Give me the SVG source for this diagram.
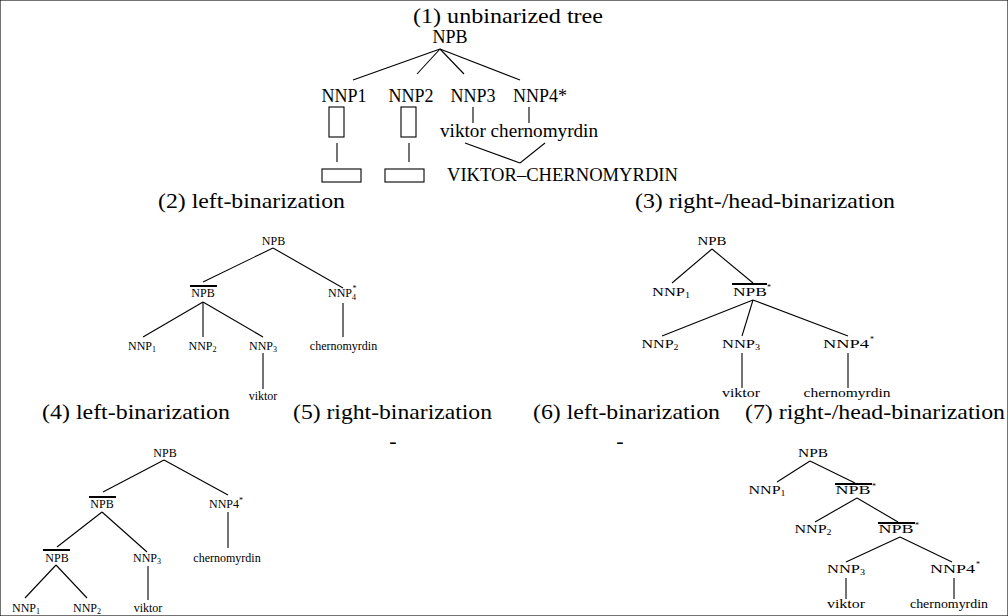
<svg xmlns="http://www.w3.org/2000/svg" width="1008" height="616" viewBox="0 0 1008 616" font-family="'Liberation Serif', 'Times New Roman', 'DejaVu Serif', serif">
<style>
text { font-family: 'Liberation Serif', 'Times New Roman', 'DejaVu Serif', serif; fill: #000; }
.title { font-size: 22px; }
.l1 { font-size: 18px; }
.s { font-size: 12px; }
.w { font-size: 13px; }
.sb { font-size: 8px; }
.m { text-anchor: middle; }
line, rect { stroke: #000; stroke-width: 1.1; fill: none; }
line.bar { stroke-width: 2; }
</style>
<rect x="0" y="0" width="1008" height="616" fill="#fff" stroke="none"/>

<g id="titles">
<text class="title" x="413" y="23" textLength="190" lengthAdjust="spacingAndGlyphs">(1) unbinarized tree</text>
<text class="title" x="158" y="208" textLength="187" lengthAdjust="spacingAndGlyphs">(2) left-binarization</text>
<text class="title" x="635" y="208" textLength="260" lengthAdjust="spacingAndGlyphs">(3) right-/head-binarization</text>
<text class="title" x="42" y="419" textLength="188" lengthAdjust="spacingAndGlyphs">(4) left-binarization</text>
<text class="title" x="293" y="419" textLength="199" lengthAdjust="spacingAndGlyphs">(5) right-binarization</text>
<text class="title" x="533" y="419" textLength="187" lengthAdjust="spacingAndGlyphs">(6) left-binarization</text>
<text class="title" x="745" y="419" textLength="260" lengthAdjust="spacingAndGlyphs">(7) right-/head-binarization</text>
<text class="title m" x="393" y="448">-</text>
<text class="title m" x="620" y="448">-</text>
</g>

<!-- Tree 1 -->
<g id="t1-npb"><text class="l1 m" x="450" y="43">NPB</text></g>
<g id="t1-nnp1"><text class="l1 m" x="344" y="102">NNP1</text><rect x="329" y="107" width="15" height="30"/></g>
<g id="t1-nnp2"><text class="l1 m" x="411" y="102">NNP2</text><rect x="401" y="107" width="15" height="30"/></g>
<g id="t1-nnp3"><text class="l1 m" x="473" y="102">NNP3</text></g>
<g id="t1-nnp4"><text class="l1 m" x="540" y="102">NNP4*</text></g>
<g id="t1-box1"><rect x="322" y="169" width="39" height="13"/></g>
<g id="t1-box2"><rect x="385" y="169" width="39" height="13"/></g>
<g id="t1-words"><text class="l1" x="440" y="137" textLength="158" lengthAdjust="spacingAndGlyphs">viktor chernomyrdin</text></g>
<g id="t1-merged"><text class="l1" x="447" y="181" textLength="231" lengthAdjust="spacingAndGlyphs">VIKTOR–CHERNOMYRDIN</text></g>

<!-- Tree 2 -->
<g id="t2-npb"><text class="s m" x="273.5" y="245">NPB</text></g>
<g id="t2-npbbar"><text class="s m" x="203" y="297">NPB</text><line class="bar" x1="190" y1="286" x2="217" y2="286"/></g>
<g id="t2-nnp4"><text class="s" x="328" y="297">NNP<tspan class="sb" dy="3">4</tspan><tspan class="sb" x="352.5" dy="-9">*</tspan></text></g>
<g id="t2-nnp1"><text class="s m" x="142" y="350">NNP<tspan class="sb" dy="2">1</tspan></text></g>
<g id="t2-nnp2"><text class="s m" x="202.5" y="350">NNP<tspan class="sb" dy="2">2</tspan></text></g>
<g id="t2-nnp3"><text class="s m" x="263" y="350">NNP<tspan class="sb" dy="2">3</tspan></text></g>
<g id="t2-cher"><text class="s m" x="343.5" y="350">chernomyrdin</text></g>
<g id="t2-vik"><text class="s m" x="263" y="400">viktor</text></g>

<!-- Tree 3 -->
<g id="t3-npb"><text class="w m" x="712" y="245" textLength="29" lengthAdjust="spacingAndGlyphs">NPB</text></g>
<g id="t3-nnp1"><text class="w m" x="671" y="296" textLength="38" lengthAdjust="spacingAndGlyphs">NNP<tspan class="sb" dy="2">1</tspan></text></g>
<g id="t3-npbbar"><text class="w m" x="750" y="296" textLength="34" lengthAdjust="spacingAndGlyphs">NPB</text><line class="bar" x1="732" y1="284" x2="767" y2="284"/><text class="sb" x="767" y="290">*</text></g>
<g id="t3-nnp2"><text class="w m" x="660" y="348" textLength="37" lengthAdjust="spacingAndGlyphs">NNP<tspan class="sb" dy="2">2</tspan></text></g>
<g id="t3-nnp3"><text class="w m" x="741" y="348" textLength="38" lengthAdjust="spacingAndGlyphs">NNP<tspan class="sb" dy="2">3</tspan></text></g>
<g id="t3-nnp4"><text class="w" x="823" y="348" textLength="46" lengthAdjust="spacingAndGlyphs">NNP4</text><text class="sb" x="870" y="342">*</text></g>
<g id="t3-vik"><text class="w m" x="741" y="397" textLength="38" lengthAdjust="spacingAndGlyphs">viktor</text></g>
<g id="t3-cher"><text class="w m" x="847" y="397" textLength="87" lengthAdjust="spacingAndGlyphs">chernomyrdin</text></g>

<!-- Tree 4 -->
<g id="t4-npb"><text class="s m" x="165" y="457">NPB</text></g>
<g id="t4-npbbar"><text class="s m" x="102" y="508">NPB</text><line class="bar" x1="89" y1="497" x2="116" y2="497"/></g>
<g id="t4-nnp4"><text class="s" x="209" y="508">NNP4<tspan class="sb" dy="-5">*</tspan></text></g>
<g id="t4-npbbar2"><text class="s m" x="57" y="562">NPB</text><line class="bar" x1="43" y1="550" x2="70" y2="550"/></g>
<g id="t4-nnp3"><text class="s m" x="147" y="562">NNP<tspan class="sb" dy="2">3</tspan></text></g>
<g id="t4-cher"><text class="s m" x="227" y="562">chernomyrdin</text></g>
<g id="t4-nnp1"><text class="s m" x="26" y="612">NNP<tspan class="sb" dy="2">1</tspan></text></g>
<g id="t4-nnp2"><text class="s m" x="87" y="612">NNP<tspan class="sb" dy="2">2</tspan></text></g>
<g id="t4-vik"><text class="s m" x="148" y="612">viktor</text></g>

<!-- Tree 7 -->
<g id="t7-npb"><text class="w m" x="813" y="457" textLength="30" lengthAdjust="spacingAndGlyphs">NPB</text></g>
<g id="t7-nnp1"><text class="w m" x="767" y="494" textLength="37" lengthAdjust="spacingAndGlyphs">NNP<tspan class="sb" dy="2">1</tspan></text></g>
<g id="t7-npbbar"><text class="w m" x="853" y="494" textLength="35" lengthAdjust="spacingAndGlyphs">NPB</text><line class="bar" x1="835" y1="484" x2="872" y2="484"/><text class="sb" x="872" y="489">*</text></g>
<g id="t7-nnp2"><text class="w m" x="813" y="533" textLength="37" lengthAdjust="spacingAndGlyphs">NNP<tspan class="sb" dy="2">2</tspan></text></g>
<g id="t7-npbbar2"><text class="w m" x="896" y="533" textLength="35" lengthAdjust="spacingAndGlyphs">NPB</text><line class="bar" x1="878" y1="523" x2="915" y2="523"/><text class="sb" x="915" y="528">*</text></g>
<g id="t7-nnp3"><text class="w m" x="846" y="573" textLength="38" lengthAdjust="spacingAndGlyphs">NNP<tspan class="sb" dy="2">3</tspan></text></g>
<g id="t7-nnp4"><text class="w" x="930" y="573" textLength="45" lengthAdjust="spacingAndGlyphs">NNP4</text><text class="sb" x="976" y="567">*</text></g>
<g id="t7-vik"><text class="w m" x="846" y="608" textLength="38" lengthAdjust="spacingAndGlyphs">viktor</text></g>
<g id="t7-cher"><text class="w m" x="949" y="608" textLength="78" lengthAdjust="spacingAndGlyphs">chernomyrdin</text></g>

<g id="connectors">
<line x1="440" y1="49" x2="353" y2="80"/>
<line x1="440" y1="49" x2="417" y2="74"/>
<line x1="440" y1="49" x2="464" y2="74"/>
<line x1="440" y1="49" x2="520" y2="80"/>
<line x1="337" y1="143" x2="337" y2="162"/>
<line x1="409" y1="143" x2="409" y2="162"/>
<line x1="473" y1="107" x2="473" y2="123"/>
<line x1="529" y1="107" x2="529" y2="123"/>
<line x1="465" y1="143" x2="520" y2="163"/>
<line x1="545" y1="143" x2="520" y2="163"/>
<line x1="273" y1="248" x2="203" y2="282"/>
<line x1="273" y1="248" x2="343" y2="288"/>
<line x1="203" y1="302" x2="143" y2="337"/>
<line x1="203" y1="302" x2="203" y2="337"/>
<line x1="203" y1="302" x2="263" y2="337"/>
<line x1="343" y1="303" x2="343" y2="337"/>
<line x1="263" y1="353" x2="263" y2="389"/>
<line x1="712" y1="249" x2="672" y2="283"/>
<line x1="712" y1="249" x2="753" y2="283"/>
<line x1="753" y1="300" x2="662" y2="336"/>
<line x1="753" y1="300" x2="742" y2="336"/>
<line x1="753" y1="300" x2="848" y2="336"/>
<line x1="742" y1="353" x2="742" y2="388"/>
<line x1="848" y1="353" x2="848" y2="388"/>
<line x1="164" y1="460" x2="103" y2="492"/>
<line x1="164" y1="460" x2="228" y2="495"/>
<line x1="102" y1="512" x2="57" y2="547"/>
<line x1="102" y1="512" x2="147" y2="552"/>
<line x1="228" y1="512" x2="228" y2="548"/>
<line x1="56" y1="565" x2="25" y2="598"/>
<line x1="56" y1="565" x2="87" y2="598"/>
<line x1="148" y1="566" x2="148" y2="600"/>
<line x1="810" y1="461" x2="777" y2="482"/>
<line x1="810" y1="461" x2="855" y2="483"/>
<line x1="857" y1="498" x2="815" y2="522"/>
<line x1="857" y1="498" x2="898" y2="522"/>
<line x1="900" y1="537" x2="846" y2="562"/>
<line x1="900" y1="537" x2="952" y2="562"/>
<line x1="846" y1="578" x2="846" y2="599"/>
<line x1="954" y1="578" x2="954" y2="599"/>
</g>
</svg>
